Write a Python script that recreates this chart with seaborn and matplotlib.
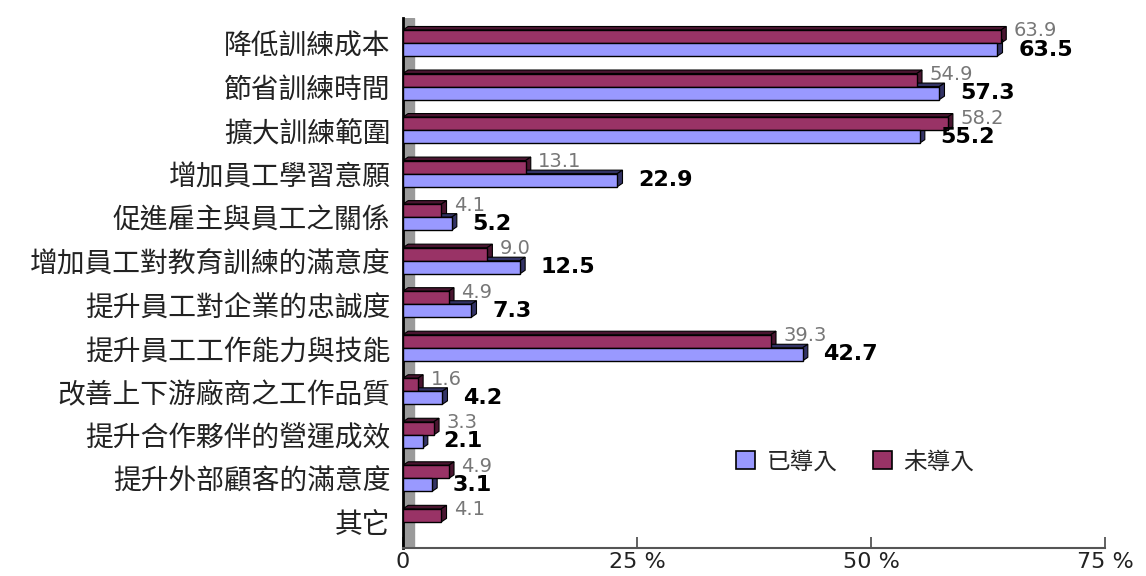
import numpy as np
import pandas as pd
import matplotlib
matplotlib.use("Agg")
import matplotlib.pyplot as plt
import seaborn as sns
from matplotlib.patches import Polygon, Patch

categories = ["降低訓練成本", "節省訓練時間", "擴大訓練範圍", "增加員工學習意願",
              "促進雇主與員工之關係", "增加員工對教育訓練的滿意度", "提升員工對企業的忠誠度",
              "提升員工工作能力與技能", "改善上下游廠商之工作品質", "提升合作夥伴的營運成效",
              "提升外部顧客的滿意度", "其它"]
adopted = [63.5, 57.3, 55.2, 22.9, 5.2, 12.5, 7.3, 42.7, 4.2, 2.1, 3.1, np.nan]
not_adopted = [63.9, 54.9, 58.2, 13.1, 4.1, 9.0, 4.9, 39.3, 1.6, 3.3, 4.9, 4.1]
series_names = ["已導入", "未導入"]
tick_values = [0, 25, 50, 75]
tick_labels = ["0", "25 %", "50 %", "75 %"]

colors = {"已導入": "#9999FF", "未導入": "#993366"}
dark = {"已導入": "#333366", "未導入": "#4A1530"}

df = pd.DataFrame({
    "cat": categories * 2,
    "val": adopted + not_adopted,
    "series": [series_names[0]] * len(categories) + [series_names[1]] * len(categories),
})

sns.set_theme(style="white")
plt.rcParams["font.family"] = ["Noto Sans CJK TC", "DejaVu Sans"]

fig = plt.figure(figsize=(11.46, 5.76), dpi=100)
ax = fig.add_axes([403 / 1146, 1 - 548 / 576, (1105 - 403) / 1146, (548 - 18) / 576])

hue_order = ["未導入", "已導入"]
sns.barplot(data=df, y="cat", x="val", hue="series", hue_order=hue_order,
            palette=colors, saturation=1, orient="h", width=0.6, edgecolor="black",
            linewidth=1.0, ax=ax, legend=False, zorder=3)

ax.set_xlim(0, 75)
ax.set_ylim(11.6, -0.575)

# 3D side faces derived from the drawn bars
dx, dy = 0.55, 0.08
for container, name in zip(ax.containers, hue_order):
    for p in container.patches:
        w = p.get_width()
        if not np.isfinite(w) or w <= 0:
            continue
        x0, y0 = p.get_x(), p.get_y()
        h = p.get_height()
        ytop = y0
        ybot = y0 + h
        x1 = x0 + w
        top = Polygon([(x0, ytop), (x1, ytop), (x1 + dx, ytop - dy), (x0 + dx, ytop - dy)],
                      closed=True, facecolor=dark[name], edgecolor="black", linewidth=0.8, zorder=2.9)
        side = Polygon([(x1, ytop), (x1, ybot), (x1 + dx, ybot - dy), (x1 + dx, ytop - dy)],
                       closed=True, facecolor=dark[name], edgecolor="black", linewidth=0.8, zorder=2.9)
        ax.add_patch(top)
        ax.add_patch(side)

# value labels
for container, name in zip(ax.containers, hue_order):
    for p in container.patches:
        w = p.get_width()
        if not np.isfinite(w):
            continue
        yc = p.get_y() + p.get_height() / 2
        if name == "未導入":
            ax.annotate(f"{w:.1f}", (w, yc), xytext=(9, 4), textcoords="offset points",
                        ha="left", va="center", fontsize=14, color="#777777",
                        family="DejaVu Sans", zorder=5)
        else:
            ax.annotate(f"{w:.1f}", (w, yc), xytext=(15, 0), textcoords="offset points",
                        ha="left", va="center", fontsize=16, fontweight="bold", color="black",
                        family="DejaVu Sans", zorder=5)

# gray back wall
ax.axvspan(0, 1.2, color="#9a9a9a", zorder=1)

for s in ["top", "right"]:
    ax.spines[s].set_visible(False)
ax.spines["left"].set_color("black")
ax.spines["left"].set_linewidth(2)
ax.spines["bottom"].set_color("#555555")
ax.spines["bottom"].set_linewidth(1.5)

ax.set_xticks(tick_values)
ax.set_xticklabels(tick_labels, fontsize=16, family="DejaVu Sans", color="#222222")
ax.tick_params(axis="x", direction="in", length=8, width=1.3, color="#555555", pad=3, bottom=True)
ax.tick_params(axis="y", length=0, pad=9)
for lbl in ax.get_yticklabels():
    lbl.set_fontsize(20)
    lbl.set_color("#222222")
ax.set_xlabel("")
ax.set_ylabel("")
ax.grid(False)

handles = [Patch(facecolor=colors[n], edgecolor="black", linewidth=1.2) for n in series_names]
ax.legend(handles, series_names, loc="center", bbox_to_anchor=(0.644, 0.162), ncol=2,
          frameon=False, fontsize=17, handlelength=0.8, handleheight=0.8,
          columnspacing=1.5, handletextpad=0.5)

fig.savefig("out.png", dpi=100)
